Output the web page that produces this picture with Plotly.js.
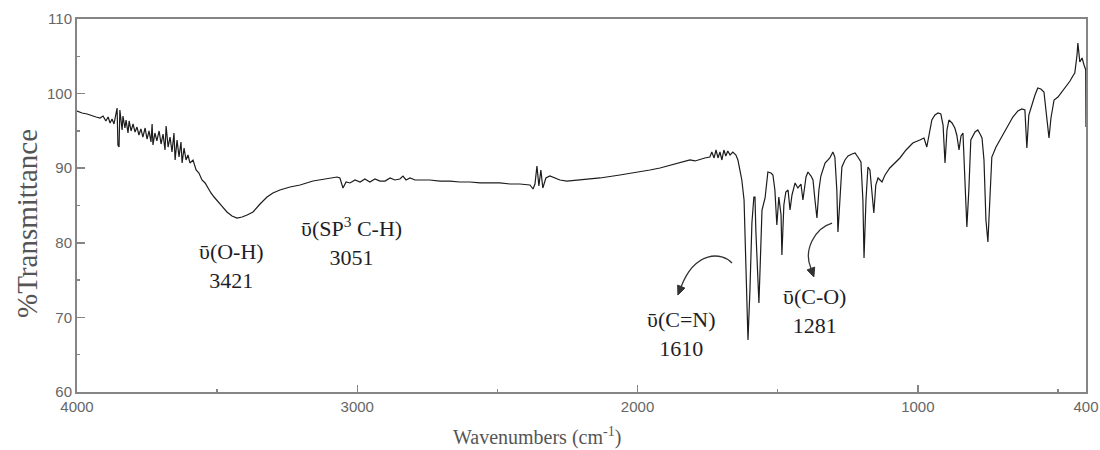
<!DOCTYPE html>
<html>
<head>
<meta charset="utf-8">
<script src="https://cdn.plot.ly/plotly-3.0.1.min.js"></script>
<style>html,body{margin:0;padding:0;background:#fff;}#chart{width:1100px;height:450px;}</style>
</head>
<body>
<div id="chart"></div>
<script>
// ---- Data (wavenumber in cm^-1, %T) ----
// O-H / noisy region 4000-3020
const wnOH = [4000,3982,3964,3946,3932,3918,3907,3897,3889,3882,3875,3868,3861,3857,3854,3850,3847,3843,3839,3836,3829,3825,3818,3814,3807,3800,3793,3786,3779,3772,3765,3757,3750,3743,3736,3732,3729,3722,3715,3707,3700,3693,3686,3682,3675,3668,3661,3654,3650,3643,3636,3629,3625,3618,3611,3604,3597,3586,3575,3565,3554,3543,3533,3522,3511,3501,3483,3465,3447,3429,3411,3393,3372,3347,3322,3301,3276,3240,3204,3158,3115,3072,3062,3051,3040,3026];
const tOH = [97.67,97.40,97.27,97.00,96.86,96.73,97.00,96.33,96.86,96.06,96.60,95.93,97.53,98.07,93.11,92.84,97.80,96.73,95.12,97.00,95.39,96.46,94.72,96.33,94.99,95.93,94.85,95.52,94.45,95.26,94.18,95.39,93.91,94.99,93.51,95.93,93.11,94.72,93.65,94.99,93.24,94.58,92.44,95.66,92.84,94.18,92.17,94.72,91.10,93.78,91.50,93.51,90.70,92.71,91.10,91.77,90.70,91.10,89.76,89.36,88.42,88.02,87.35,86.68,86.14,85.74,84.93,84.13,83.59,83.32,83.46,83.73,84.13,85.20,86.14,86.68,87.08,87.48,87.75,88.28,88.55,88.82,88.69,87.35,88.15,88.02];
// plateau 3010-1640 (CO2 feature near 2350)
const wnMid = [3008,2990,2973,2955,2937,2919,2901,2883,2866,2848,2837,2826,2812,2794,2776,2741,2705,2669,2634,2598,2562,2527,2491,2455,2420,2384,2373,2366,2359,2352,2345,2338,2327,2313,2295,2277,2252,2206,2134,2063,2016,1956,1920,1895,1867,1838,1813,1795,1777,1760,1742,1735,1727,1720,1713,1706,1699,1692,1685,1678,1670,1660,1649,1642];
const tMid = [88.42,88.15,88.55,88.15,88.55,88.28,88.28,88.69,88.42,88.55,88.95,88.42,88.69,88.42,88.42,88.42,88.28,88.28,88.15,88.15,88.02,88.02,88.02,87.88,87.88,87.75,87.21,87.88,90.30,87.61,89.76,87.35,88.69,88.95,88.69,88.42,88.28,88.42,88.69,89.09,89.36,89.76,90.03,90.30,90.56,90.83,91.10,90.97,91.23,91.37,91.50,92.17,91.37,92.44,91.37,92.17,91.10,92.44,91.64,92.31,91.77,92.17,91.77,91.10];
// fingerprint region 1640-1100
const wnFinger = [1635,1628,1620,1617,1613,1606,1599,1592,1585,1581,1578,1570,1567,1563,1556,1545,1535,1524,1517,1510,1503,1496,1488,1485,1478,1471,1463,1456,1449,1438,1428,1417,1410,1399,1392,1381,1374,1367,1360,1353,1346,1331,1314,1303,1296,1289,1285,1278,1271,1260,1249,1235,1224,1214,1203,1196,1192,1185,1178,1171,1164,1157,1150,1142,1128,1117,1100];
const tFinger = [89.76,88.42,85.74,81.72,75.01,66.97,73.67,82.65,86.14,86.14,81.72,72.73,71.93,76.35,84.40,86.01,89.49,89.36,89.09,87.08,82.39,86.14,83.73,78.36,85.07,86.81,87.08,84.40,86.41,88.02,87.35,87.88,85.74,88.82,89.49,88.95,88.42,85.74,83.32,87.08,88.95,90.70,91.37,92.17,91.50,87.08,81.45,85.74,90.16,91.10,91.64,91.90,92.04,91.50,90.83,85.74,77.96,85.74,90.16,89.76,87.08,83.99,87.75,88.69,88.15,89.09,90.03];
// low-wavenumber region 1100-400
const wnLow = [1064,1042,1018,993,978,968,960,950,939,928,918,910,903,896,889,878,868,861,853,846,839,836,828,825,818,811,796,786,778,771,764,757,750,743,736,721,707,689,671,661,643,629,618,614,611,604,596,582,572,561,550,543,532,525,514,500,486,472,457,447,440,432,429,422,414,407,404,401,400];
const tLow = [91.37,92.44,93.38,93.78,94.05,92.84,94.45,96.46,97.13,97.40,97.27,95.79,90.70,95.12,96.46,96.06,95.39,94.45,92.44,94.32,94.72,92.44,85.74,82.12,87.08,93.78,94.85,95.12,94.58,94.05,91.10,83.06,80.11,85.74,91.50,92.84,93.78,95.12,96.19,96.86,97.67,97.94,97.80,95.12,92.71,97.13,98.20,99.81,100.75,100.62,100.21,97.80,94.05,96.73,99.14,99.54,100.21,101.02,101.69,102.36,102.76,105.17,106.78,104.24,104.77,103.83,103.43,103.20,95.52];

// axis ticks
const xTickVals = [4000,3000,2000,1000,400];
const xMinorVals = [3500,2500,1500,500];
const yTickVals = [60,70,80,90,100,110];

// titles
const xTitle = 'Wavenumbers (cm<sup>-1</sup>)';
const yTitle = '%Transmittance';

// band labels
const bandLabels = [
  {text:'ῡ(O-H)<br>3421', wn:3447, t:76.9},
  {text:'ῡ(SP<sup>3</sup> C-H)<br>3051', wn:3019, t:80.2},
  {text:'ῡ(C=N)<br>1610', wn:1845, t:67.8},
  {text:'ῡ(C-O)<br>1281', wn:1367, t:70.9}
];

const wn = wnOH.concat(wnMid, wnFinger, wnLow);
const tr = tOH.concat(tMid, tFinger, tLow);

const serif = "'Liberation Serif','Times New Roman',serif";
const sans = "'Liberation Sans',Arial,sans-serif";
const axisGray = '#858585';

const trace = {
  x: wn, y: tr, type: 'scatter', mode: 'lines',
  line: {color: '#1c1c1c', width: 1.2},
  hoverinfo: 'skip'
};

const annotations = bandLabels.map(b => ({
  x: b.wn, y: b.t, xref: 'x', yref: 'y', text: b.text, showarrow: false,
  font: {family: serif, size: 22, color: '#1e1e28'}, align: 'center'
}));
// axis titles placed where the reference has them
annotations.push({text: xTitle, xref: 'paper', yref: 'paper', x: 0.456, y: -0.1206,
  xanchor: 'center', yanchor: 'middle', showarrow: false,
  font: {family: serif, size: 20, color: '#555'}});
annotations.push({text: yTitle, xref: 'paper', yref: 'paper', x: -0.0496, y: 0.453,
  xanchor: 'center', yanchor: 'middle', textangle: -90, showarrow: false,
  font: {family: serif, size: 29, color: '#555'}});

// curved arrows (lines + filled heads)
const shapes = [
  {type:'path', xref:'x', yref:'y', path:'M 1663,77.29 C 1699,78.77 1795,79.03 1845,74.07',
   line:{color:'#333', width:1.3}},
  {type:'path', xref:'x', yref:'y', path:'M 1856,73.00 L 1831,73.93 L 1857,74.33 Z',
   line:{color:'#333', width:1}, fillcolor:'#333'},
  {type:'path', xref:'x', yref:'y', path:'M 1306,82.65 C 1367,81.98 1410,79.03 1381,76.55',
   line:{color:'#333', width:1.3}},
  {type:'path', xref:'x', yref:'y', path:'M 1371,75.42 L 1368,76.74 L 1395,76.37 Z',
   line:{color:'#333', width:1}, fillcolor:'#333'}
];

const layout = {
  width: 1100, height: 450,
  margin: {l: 77, r: 14, t: 19, b: 58, pad: 0},
  paper_bgcolor: '#fff', plot_bgcolor: '#fff',
  showlegend: false,
  xaxis: {
    range: [4000, 400], autorange: false,
    tickvals: xTickVals, ticks: 'inside', ticklen: 7, tickwidth: 1.5, tickcolor: axisGray,
    minor: {tickvals: xMinorVals, ticks: 'inside', ticklen: 3, tickwidth: 1.5, tickcolor: axisGray},
    showline: true, mirror: true, linecolor: axisGray, linewidth: 2,
    showgrid: false, zeroline: false,
    tickfont: {family: sans, size: 15, color: '#666'}
  },
  yaxis: {
    range: [60, 110], autorange: false,
    tickvals: yTickVals, ticks: 'inside', ticklen: 8, tickwidth: 1.5, tickcolor: axisGray,
    minor: {dtick: 5, ticks: 'inside', ticklen: 3, tickwidth: 1.5, tickcolor: axisGray},
    showline: true, mirror: true, linecolor: axisGray, linewidth: 2,
    showgrid: false, zeroline: false,
    tickfont: {family: sans, size: 15, color: '#666'}
  },
  annotations: annotations,
  shapes: shapes
};

Plotly.newPlot('chart', [trace], layout, {displayModeBar: false, staticPlot: true});
</script>
</body>
</html>
